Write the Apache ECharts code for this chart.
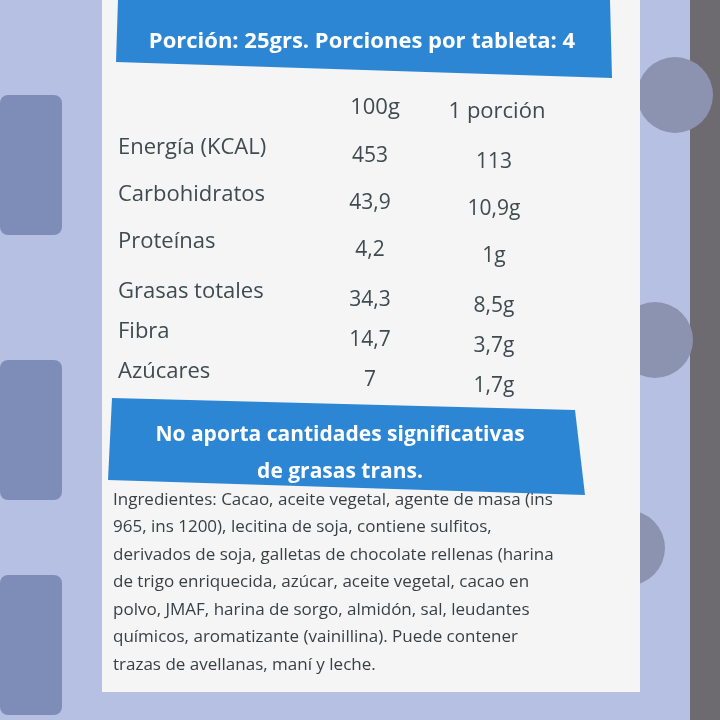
<!DOCTYPE html>
<html><head><meta charset="utf-8">
<script src="https://cdn.jsdelivr.net/npm/echarts@6/dist/echarts.min.js"></script>
<style>html,body{margin:0;padding:0;background:#b8c2e4}#c{width:720px;height:720px}</style>
</head><body><div id="c"></div>
<script>
const nutrients = ["Energía (KCAL)","Carbohidratos","Proteínas","Grasas totales","Fibra","Azúcares"];
const per100 = ["453","43,9","4,2","34,3","14,7","7"];
const perPortion = ["113","10,9g","1g","8,5g","3,7g","1,7g"];
const headers = ["100g","1 porción"];
const title = "Porción: 25grs. Porciones por tableta: 4";
const banner = ["No aporta cantidades significativas","de grasas trans."];
const ingredients = [
"Ingredientes: Cacao, aceite vegetal, agente de masa (ins",
"965, ins 1200), lecitina de soja, contiene sulfitos,",
"derivados de soja, galletas de chocolate rellenas (harina",
"de trigo enriquecida, azúcar, aceite vegetal, cacao en",
"polvo, JMAF, harina de sorgo, almidón, sal, leudantes",
"químicos, aromatizante (vainillina). Puede contener",
"trazas de avellanas, maní y leche."
];
const rowY = [148,195,242,292,332,372];
const ch = echarts.init(document.getElementById('c'));
const g = [];
const font = '"Open Sans", sans-serif';
g.push({type:'rect',shape:{x:0,y:0,width:720,height:720},style:{fill:'#b6c0e3'}});
g.push({type:'rect',shape:{x:690,y:0,width:30,height:720},style:{fill:'#6d6a70'}});
[[0,95],[0,360],[0,575]].forEach(p=>g.push({type:'rect',shape:{x:p[0],y:p[1],width:62,height:140,r:8},style:{fill:'#7e8cb8'}}));
[[675,95],[655,340],[627,548]].forEach(p=>g.push({type:'circle',shape:{cx:p[0],cy:p[1],r:38},style:{fill:'#8c93b0'}}));
g.push({type:'rect',shape:{x:102,y:0,width:538,height:692},style:{fill:'#f4f5f4'}});
g.push({type:'polygon',shape:{points:[[118,0],[610,0],[612,78],[116,62]]},style:{fill:'#2d86d4'}});
g.push({type:'text',x:362,y:42,style:{text:title,fill:'#fff',font:'bold 22px '+font,align:'center',verticalAlign:'middle'}});
g.push({type:'text',x:375,y:108,style:{text:headers[0],fill:'#3f4b50',font:'22px '+font,align:'center',verticalAlign:'middle'}});
g.push({type:'text',x:497,y:112,style:{text:headers[1],fill:'#3f4b50',font:'22px '+font,align:'center',verticalAlign:'middle'}});
nutrients.forEach((n,i)=>{
  g.push({type:'text',x:118,y:rowY[i],style:{text:n,fill:'#3f4b50',font:'22px '+font,verticalAlign:'middle'}});
  g.push({type:'text',x:370,y:rowY[i]+8,style:{text:per100[i],fill:'#3f4b50',font:'21px '+font,align:'center',verticalAlign:'middle'}});
  g.push({type:'text',x:494,y:rowY[i]+14,style:{text:perPortion[i],fill:'#3f4b50',font:'21px '+font,align:'center',verticalAlign:'middle'}});
});
g.push({type:'polygon',shape:{points:[[112,398],[575,410],[585,495],[108,480]]},style:{fill:'#2d86d4'}});
g.push({type:'text',x:340,y:435,style:{text:banner[0],fill:'#fff',font:'bold 21px '+font,align:'center',verticalAlign:'middle'}});
g.push({type:'text',x:340,y:472,style:{text:banner[1],fill:'#fff',font:'bold 21px '+font,align:'center',verticalAlign:'middle'}});
ingredients.forEach((l,i)=>g.push({type:'text',x:113,y:500+i*27.5,style:{text:l,fill:'#3a3f44',font:'17px '+font,verticalAlign:'middle'}}));
ch.setOption({animation:false,graphic:{elements:g}});
</script></body></html>
